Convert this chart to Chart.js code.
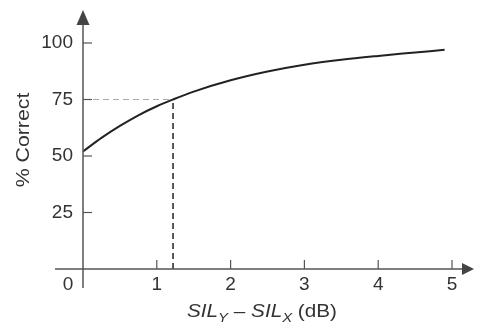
<!DOCTYPE html>
<html>
<head>
<meta charset="utf-8">
<script src="https://cdn.jsdelivr.net/npm/chart.js@4"></script>
<style>
  body { margin: 0; background: #fff; }
  #wrap { width: 478px; height: 335px; }
</style>
</head>
<body>
<div id="wrap"><canvas id="silChart" width="478" height="335"></canvas></div>
<script>
// curve
const diffDb = [0, 0.25, 0.5, 0.75, 1, 1.22, 1.5, 2, 2.5, 3, 3.5, 4, 4.5, 4.9];
const pctCorrect = [52, 58, 63.3, 68, 72, 75, 78.5, 83.5, 87.4, 90.4, 92.6, 94.3, 95.8, 97];
// 75% guide
const guideX = 1.22;
const guideY = 75;
const xTicks = [0, 1, 2, 3, 4, 5];
const yTicks = [0, 25, 50, 75, 100];

const font = "'Liberation Sans', Arial, sans-serif";
const ink = '#333';

const axesPlugin = {
    id: 'axes',
    afterDraw(chart) {
        const ctx = chart.ctx;
        const xs = chart.scales.x, ys = chart.scales.y;
        const x0 = xs.getPixelForValue(0), y0 = ys.getPixelForValue(0);
        ctx.save();
        ctx.strokeStyle = '#555';
        ctx.fillStyle = '#444';
        ctx.lineWidth = 1.5;

        // y axis with arrow
        ctx.beginPath();
        ctx.moveTo(x0, y0 + 19);
        ctx.lineTo(x0, 22);
        ctx.stroke();
        ctx.beginPath();
        ctx.moveTo(x0, 10);
        ctx.lineTo(x0 - 6.5, 25);
        ctx.lineTo(x0 + 6.5, 25);
        ctx.closePath();
        ctx.fill();

        // x axis with arrow
        ctx.beginPath();
        ctx.moveTo(x0 - 28, y0);
        ctx.lineTo(466, y0);
        ctx.stroke();
        ctx.beginPath();
        ctx.moveTo(474, y0);
        ctx.lineTo(462, y0 - 6);
        ctx.lineTo(462, y0 + 6);
        ctx.closePath();
        ctx.fill();

        // tick marks, drawn inward
        ctx.lineWidth = 1.2;
        yTicks.forEach(v => {
            if (v === 0) return;
            const y = ys.getPixelForValue(v);
            ctx.beginPath();
            ctx.moveTo(x0, y);
            ctx.lineTo(x0 + 9, y);
            ctx.stroke();
        });
        xTicks.forEach(v => {
            if (v === 0) return;
            const x = xs.getPixelForValue(v);
            ctx.beginPath();
            ctx.moveTo(x, y0);
            ctx.lineTo(x, y0 - 9);
            ctx.stroke();
        });

        // shared origin label
        ctx.fillStyle = ink;
        ctx.font = '19px ' + font;
        ctx.textAlign = 'center';
        ctx.textBaseline = 'middle';
        ctx.fillText('0', x0 - 15, y0 + 16);

        // y title
        ctx.save();
        ctx.translate(24, 140);
        ctx.rotate(-Math.PI / 2);
        ctx.scale(1.12, 1);
        ctx.font = '19px ' + font;
        ctx.fillText('% Correct', 0, 0);
        ctx.restore();

        // x title: SIL_Y − SIL_X (dB), slightly stretched like the scan
        const parts = [
            { t: 'SIL', f: 'italic 18px ', dy: 0 },
            { t: 'Y', f: 'italic 13px ', dy: 5 },
            { t: ' \u2013 ', f: '18px ', dy: 0 },
            { t: 'SIL', f: 'italic 18px ', dy: 0 },
            { t: 'X', f: 'italic 13px ', dy: 5 },
            { t: ' (dB)', f: '18px ', dy: 0 }
        ];
        const stretch = 1.15;
        let w = 0;
        parts.forEach(p => { ctx.font = p.f + font; w += ctx.measureText(p.t).width; });
        ctx.save();
        ctx.translate(262 - w * stretch / 2, 317);
        ctx.scale(stretch, 1);
        ctx.textAlign = 'left';
        ctx.textBaseline = 'alphabetic';
        let x = 0;
        parts.forEach(p => {
            ctx.font = p.f + font;
            ctx.fillText(p.t, x, p.dy);
            x += ctx.measureText(p.t).width;
        });
        ctx.restore();
        ctx.restore();
    }
};

new Chart(document.getElementById('silChart').getContext('2d'), {
    type: 'scatter',
    data: {
        datasets: [
            {
                label: 'curve',
                data: diffDb.map((d, i) => ({ x: d, y: pctCorrect[i] })),
                showLine: true,
                borderColor: '#222',
                borderWidth: 2,
                pointRadius: 0,
                cubicInterpolationMode: 'monotone'
            },
            {
                label: 'h guide',
                data: [{ x: 0, y: guideY }, { x: guideX, y: guideY }],
                showLine: true,
                borderColor: '#aaa',
                borderWidth: 1.2,
                borderDash: [6, 4],
                pointRadius: 0
            },
            {
                label: 'v guide',
                data: [{ x: guideX, y: 0 }, { x: guideX, y: guideY }],
                showLine: true,
                borderColor: '#222',
                borderWidth: 1.5,
                borderDash: [6, 4],
                pointRadius: 0
            }
        ]
    },
    plugins: [axesPlugin],
    options: {
        responsive: false,
        animation: false,
        layout: { padding: { top: 43, right: 26, bottom: 0, left: 0 } },
        scales: {
            x: {
                type: 'linear',
                min: 0,
                max: 5,
                grid: { display: false, drawTicks: false },
                border: { display: false },
                afterFit: s => { s.height = 66; },
                afterBuildTicks: s => { s.ticks = xTicks.map(v => ({ value: v })); },
                ticks: {
                    color: ink,
                    font: { family: font, size: 19 },
                    padding: 4,
                    callback: v => (v === 0 ? '' : v)
                }
            },
            y: {
                min: 0,
                max: 100,
                grid: { display: false, drawTicks: false },
                border: { display: false },
                afterFit: s => { s.width = 83; },
                afterBuildTicks: s => { s.ticks = yTicks.map(v => ({ value: v })); },
                ticks: {
                    color: ink,
                    font: { family: font, size: 19 },
                    padding: 10,
                    callback: v => (v === 0 ? '' : v)
                }
            }
        },
        plugins: {
            legend: { display: false },
            tooltip: { enabled: false }
        }
    }
});
</script>
</body>
</html>
